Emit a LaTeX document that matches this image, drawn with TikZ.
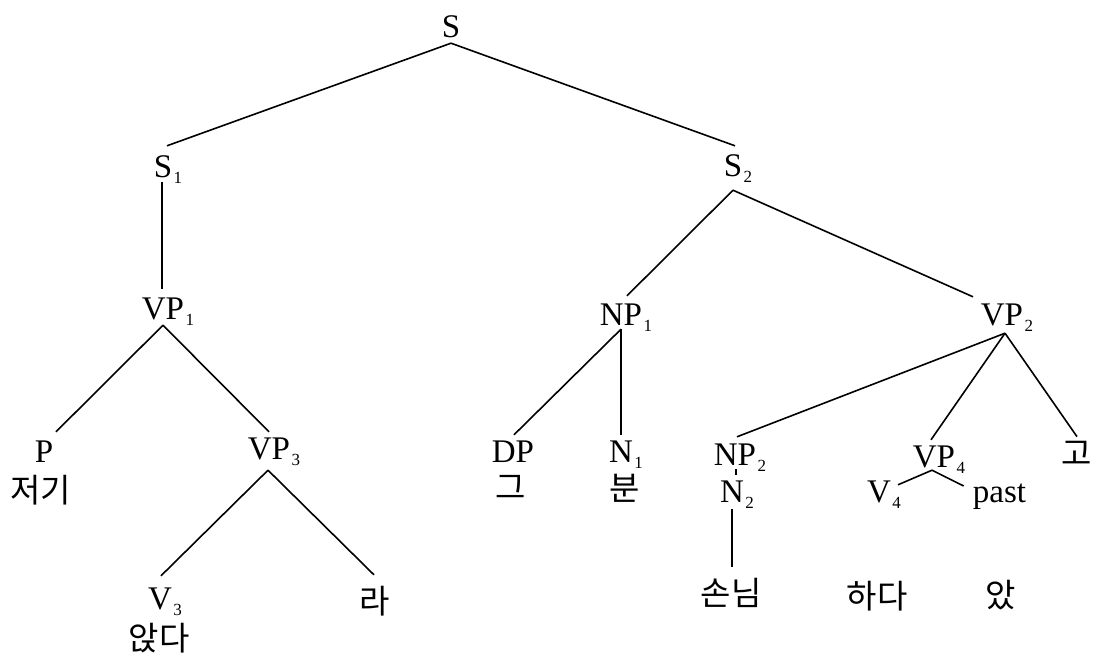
\documentclass[tikz,border=0pt]{standalone}
\usepackage{fontspec}
\setmainfont{Liberation Serif}
\newfontfamily\kor{Noto Sans CJK KR}
% subscript index set after a category label, kept out of the node width
\newcommand\subn[1]{\rlap{\kern1.5pt\raisebox{-6pt}{\fontsize{17}{17}\selectfont #1}}}
\begin{document}
\begin{tikzpicture}[x=1pt,y=-1pt,
  cat/.style={inner sep=0pt, anchor=base, text height=22pt, text depth=0pt,
              font=\fontsize{33}{36}\selectfont},
  word/.style={inner sep=0pt, anchor=center, font=\kor\fontsize{33}{36}\selectfont},
  edge/.style={line width=1.6pt}]
\useasboundingbox (0,0) rectangle (1093,653);

% category labels
\node[cat] (s)   at (451,37)  {S};
\node[cat] (s1)  at (163,177) {S\subn{1}};
\node[cat] (s2)  at (733,176) {S\subn{2}};
\node[cat] (vp1) at (163,319) {VP\subn{1}};
\node[cat] (p)   at (44,462)  {P};
\node[cat] (vp3) at (269,459) {VP\subn{3}};
\node[cat] (v3)  at (160,609) {V\subn{3}};
\node[cat] (np1) at (621,325) {NP\subn{1}};
\node[cat] (vp2) at (1002,325) {VP\subn{2}};
\node[cat] (dp)  at (513,462) {DP};
\node[cat] (n1)  at (621,462) {N\subn{1}};
\node[cat] (np2) at (735,465) {NP\subn{2}};
\node[cat] (n2)  at (732,502) {N\subn{2}};
\node[cat] (vp4) at (934,467) {VP\subn{4}};
\node[cat] (v4)  at (879,502) {V\subn{4}};
\node[cat] (past) at (999.5,502) {past};

% Korean words
\node[word] (jeogi) at (41,490)   {저기};
\node[word] (anjda) at (159,638)  {앉다};
\node[word] (ra)    at (375,601)  {라};
\node[word] (geu)   at (511,487)  {그};
\node[word] (bun)   at (625,488)  {분};
\node[word] (sonnim) at (731,593) {손님};
\node[word] (hada)  at (877,596)  {하다};
\node[word] (at)    at (1001,595) {았};
\node[word] (go)    at (1077,453) {고};

% branches
\draw[edge] ([yshift=-6pt]s.south) -- ([xshift=4pt,yshift=9pt]s1.north);
\draw[edge] ([yshift=-6pt]s.south) -- ([xshift=2pt,yshift=8pt]s2.north);
\draw[edge] ([xshift=-1pt,yshift=-5pt]s1.south) -- ([xshift=-1pt,yshift=8pt]vp1.north);
\draw[edge] ([yshift=-6pt]vp1.south) -- ([xshift=12pt,yshift=8pt]p.north);
\draw[edge] ([yshift=-6pt]vp1.south) -- ([yshift=5pt]vp3.north);
\draw[edge] ([xshift=-1pt,yshift=-11pt]vp3.south) -- ([xshift=1pt,yshift=11pt]v3.north);
\draw[edge] ([xshift=-1pt,yshift=-11pt]vp3.south) -- ([xshift=-1pt,yshift=11pt]ra.north);
\draw[edge] ([yshift=-14pt]s2.south) -- ([xshift=6pt,yshift=7pt]np1.north);
\draw[edge] ([yshift=-14pt]s2.south) -- ([xshift=-29pt,yshift=6pt]vp2.north);
\draw[edge] ([yshift=-4pt]np1.south) -- ([xshift=1pt,yshift=5pt]dp.north);
\draw[edge] ([yshift=-4pt]np1.south) -- ([yshift=5pt]n1.north);
\draw[edge] ([xshift=3pt,yshift=-8pt]vp2.south) -- ([xshift=2pt,yshift=6pt]np2.north);
\draw[edge] ([xshift=3pt,yshift=-8pt]vp2.south) -- ([xshift=-3pt,yshift=5pt]vp4.north);
\draw[edge] ([xshift=3pt,yshift=-8pt]vp2.south) -- ([yshift=4pt]go.north);
\draw[edge] ([xshift=1pt,yshift=-4pt]np2.south) -- ([xshift=4pt,yshift=5pt]n2.north);
\draw[edge] ([yshift=-7pt]n2.south) -- ([xshift=1pt,yshift=11pt]sonnim.north);
\draw[edge] ([xshift=-2pt,yshift=-3pt]vp4.south) -- ([xshift=19pt,yshift=-5pt]v4.north);
\draw[edge] ([xshift=-2pt,yshift=-3pt]vp4.south) -- ([xshift=-9pt,yshift=5pt]past.west);
\end{tikzpicture}
\end{document}
